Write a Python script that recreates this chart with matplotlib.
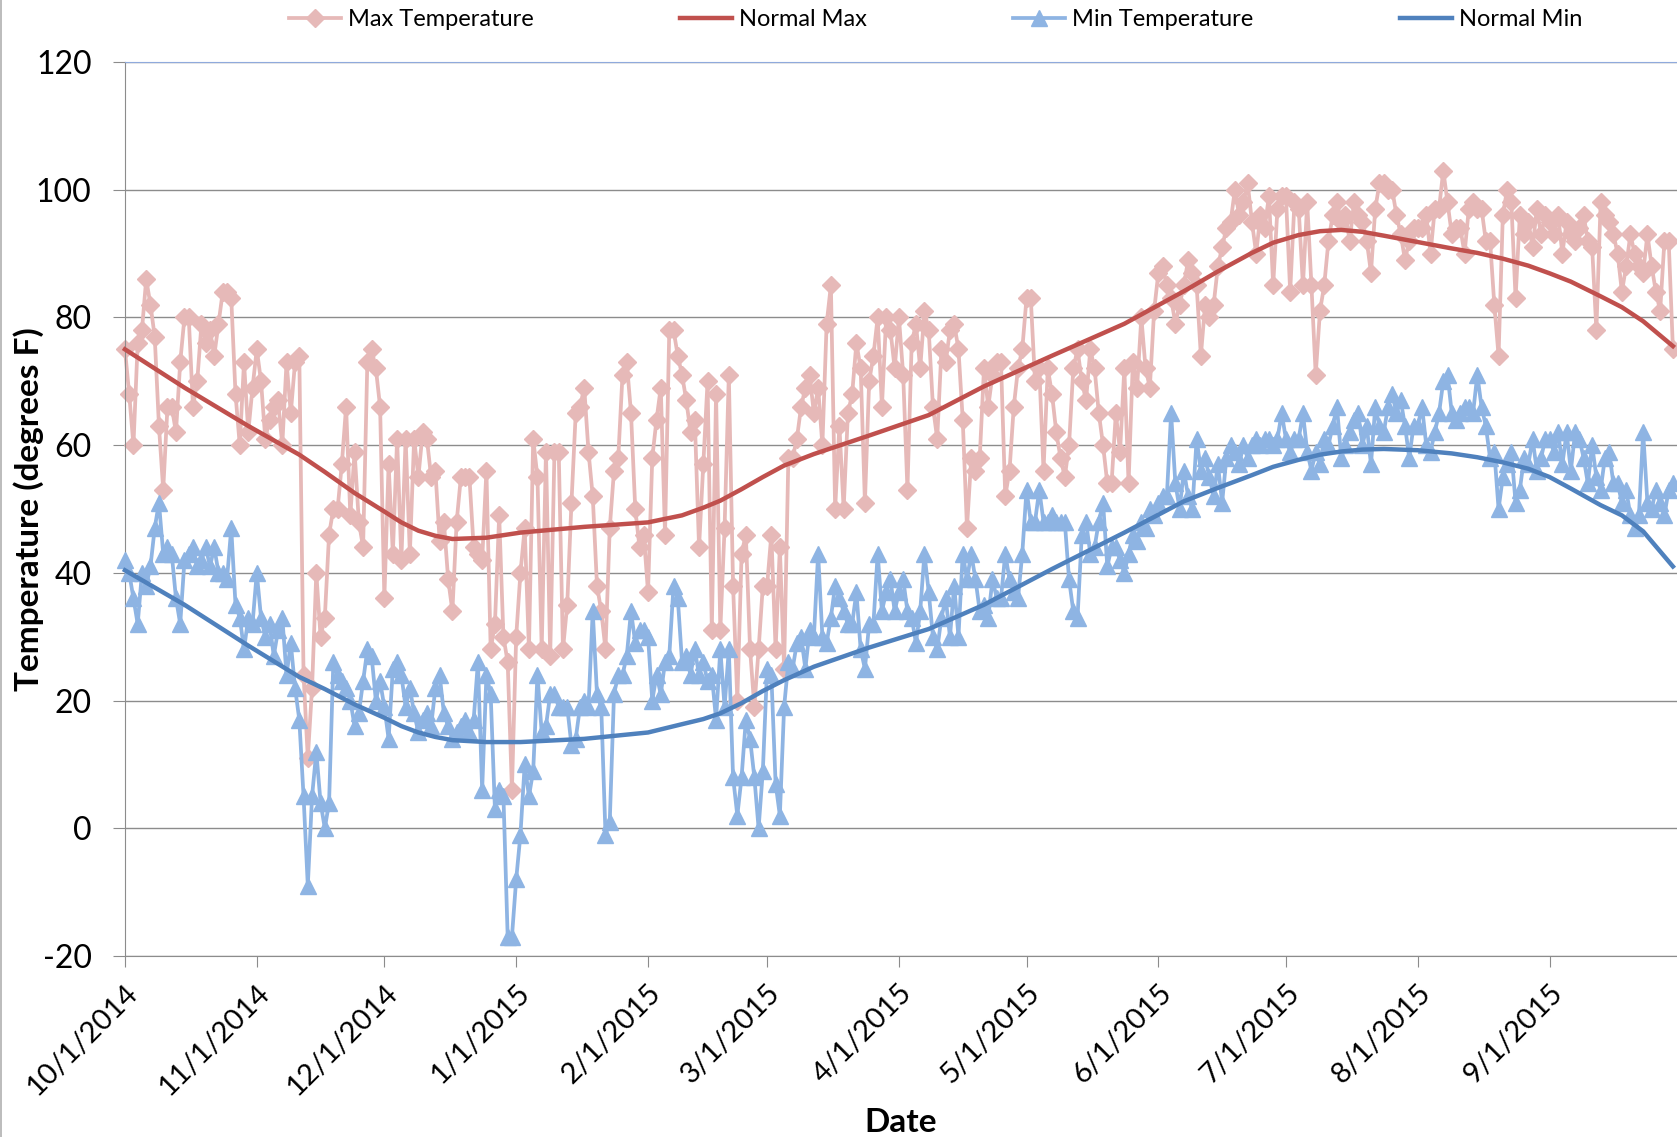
import pandas as pd
import matplotlib.pyplot as plt
import matplotlib.dates as mdates
import matplotlib.ticker as mticker
from matplotlib.lines import Line2D

plt.rcParams['font.family'] = ['Lato', 'DejaVu Sans']
plt.rcParams['axes.unicode_minus'] = False

# daily max temperature, one list per month (10/2014 .. 9/2015)
max_oct = [75, 68, 60, 76, 78, 86, 82, 77, 63, 53, 66, 66, 62, 73, 80, 80, 66, 70, 79, 76,
           78, 74, 79, 84, 84, 83, 68, 60, 73, 62, 69]
max_nov = [75, 70, 61, 64, 66, 67, 60, 73, 65, 73, 74, 24, 11, 22, 40, 30, 33, 46, 50, 50,
           57, 66, 49, 59, 48, 44, 73, 75, 72, 66]
max_dec = [36, 57, 43, 61, 42, 61, 43, 61, 55, 62, 61, 55, 56, 45, 48, 39, 34, 48, 55, 55,
           55, 44, 43, 42, 56, 28, 32, 49, 30, 26, 6]
max_jan = [30, 40, 47, 28, 61, 55, 28, 59, 27, 59, 59, 28, 35, 51, 65, 66, 69, 59, 52, 38,
           34, 28, 47, 56, 58, 71, 73, 65, 50, 44, 46]
max_feb = [37, 58, 64, 69, 46, 78, 78, 74, 71, 67, 62, 64, 44, 57, 70, 31, 68, 31, 47, 71,
           38, 20, 43, 46, 28, 19, 28, 38]
max_mar = [38, 46, 28, 44, 25, 58, 58, 61, 66, 69, 71, 65, 69, 60, 79, 85, 50, 63, 50, 65,
           68, 76, 72, 51, 70, 74, 80, 66, 80, 78, 72]
max_apr = [80, 71, 53, 76, 79, 72, 81, 78, 66, 61, 75, 73, 78, 79, 75, 64, 47, 58, 56, 58,
           72, 66, 71, 73, 73, 52, 56, 66, 72, 75]
max_may = [83, 83, 70, 72, 56, 72, 68, 62, 58, 55, 60, 72, 75, 70, 67, 75, 72, 65, 60, 54,
           54, 65, 59, 72, 54, 73, 69, 80, 72, 69, 81]
max_jun = [87, 88, 85, 83, 79, 82, 85, 89, 87, 85, 74, 82, 80, 82, 88, 91, 94, 95, 100, 96,
           98, 101, 95, 90, 96, 94, 99, 85, 97, 99]
max_jul = [99, 84, 98, 97, 85, 98, 85, 71, 81, 85, 92, 96, 98, 95, 96, 92, 98, 96, 95, 92,
           87, 97, 101, 101, 100, 100, 96, 93, 89, 92, 94]
max_aug = [94, 94, 96, 90, 97, 97, 103, 98, 93, 94, 94, 90, 97, 98, 97, 97, 92, 92, 82, 74,
           96, 100, 98, 83, 96, 93, 95, 91, 97, 93, 96]
max_sep = [95, 93, 96, 90, 95, 93, 92, 94, 96, 92, 91, 78, 98, 96, 95, 93, 90, 84, 88, 93,
           90, 88, 87, 93, 88, 84, 81, 92, 92, 75]

# daily min temperature
min_oct = [42, 40, 36, 32, 40, 38, 41, 47, 51, 43, 44, 43, 36, 32, 42, 43, 44, 41, 42, 44,
           41, 44, 40, 40, 39, 47, 35, 33, 28, 33, 32]
min_nov = [40, 33, 30, 32, 27, 31, 33, 24, 29, 22, 17, 5, -9, 5, 12, 4, 0, 4, 26, 24,
           23, 22, 20, 16, 18, 23, 28, 27, 20, 23]
min_dec = [19, 14, 25, 26, 24, 19, 22, 18, 15, 17, 18, 16, 22, 24, 18, 16, 14, 15, 16, 17,
           15, 17, 26, 6, 24, 21, 3, 6, 5, -17, -17]
min_jan = [-8, -1, 10, 5, 9, 24, 15, 16, 21, 21, 19, 19, 19, 13, 14, 19, 20, 19, 34, 21,
           19, -1, 1, 21, 24, 24, 27, 34, 29, 31, 31]
min_feb = [30, 20, 24, 21, 26, 27, 38, 36, 26, 27, 24, 28, 24, 26, 23, 24, 17, 28, 19, 28,
           8, 2, 8, 17, 14, 8, 0, 9]
min_mar = [25, 24, 7, 2, 19, 26, 25, 29, 30, 25, 31, 30, 43, 30, 29, 33, 38, 36, 34, 32,
           32, 37, 28, 25, 32, 32, 43, 34, 37, 39, 34]
min_apr = [37, 39, 34, 33, 29, 34, 43, 37, 30, 28, 33, 36, 30, 38, 30, 43, 39, 43, 39, 34,
           35, 33, 39, 36, 36, 43, 39, 37, 36, 43]
min_may = [53, 48, 48, 53, 48, 48, 49, 48, 48, 48, 39, 34, 33, 46, 48, 43, 44, 48, 51, 41,
           44, 44, 42, 40, 43, 46, 45, 48, 47, 50, 49]
min_jun = [51, 52, 52, 65, 54, 50, 56, 52, 50, 61, 56, 58, 55, 52, 57, 51, 58, 60, 59, 57,
           60, 58, 60, 61, 60, 61, 61, 60, 61, 65]
min_jul = [61, 59, 61, 61, 65, 59, 56, 59, 57, 61, 60, 63, 66, 58, 60, 62, 64, 65, 60, 63,
           57, 66, 63, 62, 66, 68, 65, 67, 63, 58, 63]
min_aug = [63, 66, 60, 59, 62, 65, 70, 71, 65, 64, 65, 66, 66, 65, 71, 66, 63, 58, 59, 50,
           55, 57, 59, 51, 53, 58, 57, 61, 56, 58, 61]
min_sep = [61, 59, 62, 57, 62, 56, 62, 61, 58, 54, 60, 55, 53, 58, 59, 54, 54, 51, 53, 49,
           47, 49, 62, 51, 50, 53, 51, 49, 53, 54]

# normals
normal_dates = ['2014-10-01', '2014-10-15', '2014-10-30', '2014-11-11', '2014-11-17',
                '2014-11-24', '2014-12-01', '2014-12-05', '2014-12-09', '2014-12-13',
                '2014-12-17', '2014-12-25', '2015-01-02', '2015-01-17', '2015-02-01',
                '2015-02-09', '2015-02-14', '2015-02-18', '2015-02-23', '2015-02-28',
                '2015-03-05', '2015-03-12', '2015-03-25', '2015-04-08', '2015-04-21',
                '2015-05-07', '2015-05-24', '2015-06-07', '2015-06-15', '2015-06-23',
                '2015-06-28', '2015-07-04', '2015-07-09', '2015-07-14', '2015-07-19',
                '2015-07-24', '2015-08-01', '2015-08-09', '2015-08-15', '2015-08-21',
                '2015-08-27', '2015-09-01', '2015-09-06', '2015-09-13', '2015-09-18',
                '2015-09-23', '2015-09-30']
normal_max = [75.0, 69.0, 63.0, 58.5, 55.8, 52.5, 49.6, 47.9, 46.6, 45.8, 45.3, 45.5, 46.3,
              47.2, 47.9, 49.0, 50.2, 51.3, 53.1, 55.0, 56.8, 58.6, 61.5, 64.7, 69.2, 74.0,
              79.0, 84.1, 87.2, 90.1, 91.7, 92.9, 93.5, 93.7, 93.4, 92.8, 91.8, 90.8, 90.1,
              89.2, 88.1, 86.9, 85.6, 83.3, 81.6, 79.4, 75.5]
normal_min = [40.4, 35.0, 28.6, 23.7, 21.8, 19.4, 17.3, 16.0, 15.0, 14.3, 13.8, 13.5, 13.5,
              14.0, 15.0, 16.3, 17.1, 18.0, 19.6, 21.5, 23.2, 25.3, 28.3, 31.2, 35.0, 40.6,
              46.3, 51.2, 53.3, 55.3, 56.6, 57.7, 58.5, 59.0, 59.3, 59.4, 59.2, 58.7, 58.1,
              57.3, 56.3, 55.0, 53.2, 50.6, 49.0, 46.5, 41.0]

max_temp = (max_oct + max_nov + max_dec + max_jan + max_feb + max_mar + max_apr + max_may
            + max_jun + max_jul + max_aug + max_sep)
min_temp = (min_oct + min_nov + min_dec + min_jan + min_feb + min_mar + min_apr + min_may
            + min_jun + min_jul + min_aug + min_sep)
days = pd.date_range('2014-10-01', '2015-09-30', freq='D')
ndays = pd.to_datetime(normal_dates)

fig = plt.figure(figsize=(16.77, 11.37), dpi=100)
ax = fig.add_axes([0.0745, 0.1592, 0.9255, 0.7863])

l1, = ax.plot(days, max_temp, color='#E6B9B8', lw=2.7, marker='D', ms=9.5,
              clip_on=False, zorder=2, label='Max Temperature')
l2, = ax.plot(ndays, normal_max, color='#C0504D', lw=3.2, clip_on=False, zorder=3,
              label='Normal Max')
l3, = ax.plot(days, min_temp, color='#8EB4E3', lw=2.7, marker='^', ms=12,
              clip_on=False, zorder=4, label='Min Temperature')
l4, = ax.plot(ndays, normal_min, color='#4F81BD', lw=3.2, clip_on=False, zorder=5,
              label='Normal Min')

ax.set_ylim(-20, 120)
ax.yaxis.set_major_locator(mticker.MultipleLocator(20))
ax.set_xlim(pd.Timestamp('2014-10-01'), pd.Timestamp('2015-09-30 23:00'))
ax.xaxis.set_major_locator(mdates.MonthLocator())
ax.xaxis.set_major_formatter(
    mticker.FuncFormatter(lambda v, p: '{d.month}/{d.day}/{d.year}'.format(d=mdates.num2date(v))))

ax.yaxis.grid(True, color='#8c8c8c', lw=1)
ax.set_axisbelow(True)
ax.spines['right'].set_visible(False)
ax.spines['top'].set_color('#8FAADC')
for s in ['left', 'bottom']:
    ax.spines[s].set_color('#8c8c8c')
ax.tick_params(axis='y', length=9, color='#8c8c8c', labelsize=23, pad=15)
ax.tick_params(axis='x', length=8, color='#8c8c8c', labelsize=21, pad=9)
for lab in ax.get_xticklabels():
    lab.set_rotation(45)
    lab.set_ha('right')
    lab.set_va('top')
    lab.set_rotation_mode('anchor')

ax.set_xlabel('Date', fontsize=24, fontweight='bold')
ax.xaxis.set_label_coords(0.5, -0.17)
ax.set_ylabel('Temperature (degrees F)', fontsize=24, fontweight='bold')
ax.yaxis.set_label_coords(-0.052, 0.5)

# thin chart border visible along the left edge
fig.add_artist(Line2D([0.0008, 0.0008], [0, 1], color='#b0b0b0', lw=1.2,
                      transform=fig.transFigure))

fig.legend(handles=[l1, l2, l3, l4], loc='center', bbox_to_anchor=(0.558, 0.983), ncol=4,
           frameon=False, fontsize=17, handlelength=2.2, handletextpad=0.3,
           columnspacing=6.2)

fig.savefig('out.png', dpi=100)
